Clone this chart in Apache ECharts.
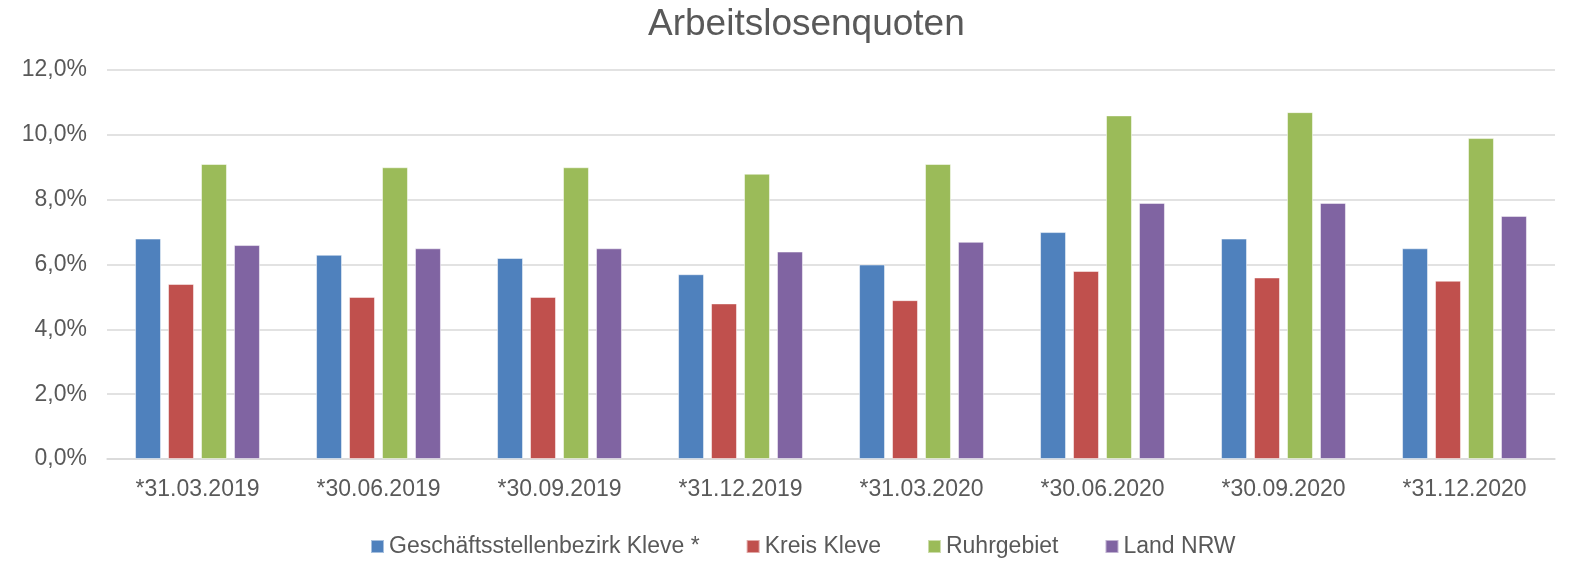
<!DOCTYPE html>
<html>
<head>
<meta charset="utf-8">
<script src="https://cdn.jsdelivr.net/npm/echarts@6/dist/echarts.min.js"></script>
<style>
  html, body { margin: 0; padding: 0; background: #fff; }
  #chart { width: 1586px; height: 563px; }
</style>
</head>
<body>
<div id="chart"></div>
<script>
var categories = ["*31.03.2019", "*30.06.2019", "*30.09.2019", "*31.12.2019",
                  "*31.03.2020", "*30.06.2020", "*30.09.2020", "*31.12.2020"];
var kleveBezirk = [6.8, 6.3, 6.2, 5.7, 6.0, 7.0, 6.8, 6.5];
var kreisKleve = [5.4, 5.0, 5.0, 4.8, 4.9, 5.8, 5.6, 5.5];
var ruhrgebiet = [9.1, 9.0, 9.0, 8.8, 9.1, 10.6, 10.7, 9.9];
var landNRW = [6.6, 6.5, 6.5, 6.4, 6.7, 7.9, 7.9, 7.5];

var seriesNames = ["Geschäftsstellenbezirk Kleve *", "Kreis Kleve", "Ruhrgebiet", "Land NRW"];
var colors = ["#4F81BD", "#C0504D", "#9BBB59", "#8064A2"];
var values = [kleveBezirk, kreisKleve, ruhrgebiet, landNRW];

var chart = echarts.init(document.getElementById("chart"));
var font = "Liberation Sans, Arial, sans-serif";

var series = [];
for (var i = 0; i < seriesNames.length; i++) {
  series.push({
    name: seriesNames[i],
    type: "bar",
    data: values[i],
    barGap: "27%",
    barCategoryGap: "31%",
    itemStyle: {
      color: colors[i],
      borderColor: "rgba(255,255,255,0.5)",
      borderWidth: 1,
    },
  });
}

var option = {
  animation: false,
  color: colors,
  title: {
    text: "Arbeitslosenquoten",
    left: 643,
    top: 1,
    textStyle: {
      fontFamily: font,
      fontSize: 37,
      fontWeight: "normal",
      color: "#595959",
    },
  },
  grid: {
    left: 107,
    right: 31,
    top: 70,
    bottom: 104,
    containLabel: false,
  },
  legend: {
    data: seriesNames,
    top: 535,
    left: 370,
    padding: 0,
    icon: "rect",
    itemWidth: 13,
    itemHeight: 13,
    itemGap: 46,
    textStyle: {
      fontFamily: font,
      fontSize: 23,
      color: "#595959",
      padding: [0, 0, 0, 0],
    },
  },
  xAxis: {
    type: "category",
    data: categories,
    axisTick: { show: false },
    axisLine: { lineStyle: { color: "#D9D9D9", width: 1.5 } },
    axisLabel: {
      fontFamily: font,
      fontSize: 23,
      color: "#595959",
      margin: 19,
    },
  },
  yAxis: {
    type: "value",
    min: 0,
    max: 12,
    interval: 2,
    axisLine: { show: false },
    axisTick: { show: false },
    splitLine: { lineStyle: { color: "#D9D9D9", width: 1.5 } },
    axisLabel: {
      fontFamily: font,
      fontSize: 23,
      color: "#595959",
      margin: 20,
      formatter: function (v) {
        return v.toFixed(1).replace(".", ",") + "%";
      },
    },
  },
  series: series,
};
chart.setOption(option);
</script>
</body>
</html>
